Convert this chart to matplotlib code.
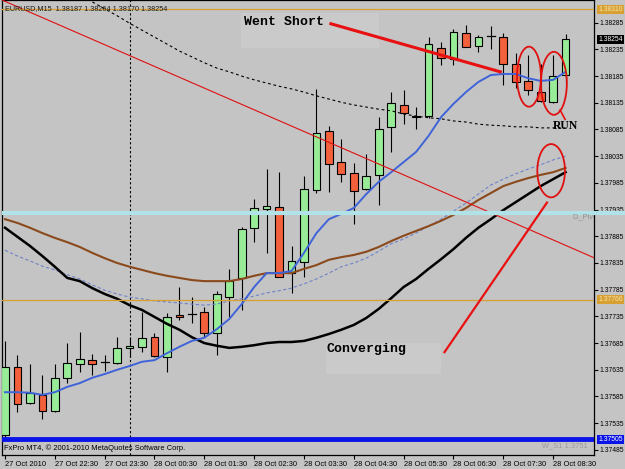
import matplotlib
matplotlib.use('Agg')
import matplotlib.pyplot as plt
import matplotlib.transforms as mtransforms
from matplotlib.patches import Ellipse, Rectangle

# EURUSD M15, bars from 27 Oct 21:30 to 28 Oct 08:45
opens = [1.37512, 1.37641, 1.37572, 1.37587, 1.37557, 1.37620, 1.37646, 1.37654, 1.37650, 1.37648,
         1.37676, 1.37678, 1.37697, 1.37658, 1.37738, 1.37740, 1.37744, 1.37704, 1.37772, 1.37807,
         1.37901, 1.37936, 1.37940, 1.37816, 1.37837, 1.37972, 1.38082, 1.38024, 1.38004, 1.37974,
         1.38000, 1.38090, 1.38131, 1.38110, 1.38110, 1.38238, 1.38217, 1.38266, 1.38241, 1.38260,
         1.38258, 1.38208, 1.38176, 1.38155, 1.38137, 1.38187]
highs = [1.37688, 1.37663, 1.37645, 1.37626, 1.37646, 1.37686, 1.37706, 1.37665, 1.37663, 1.37697,
         1.37697, 1.37744, 1.37704, 1.37742, 1.37790, 1.37772, 1.37753, 1.37783, 1.37824, 1.37902,
         1.37955, 1.38011, 1.38005, 1.37867, 1.37998, 1.38161, 1.38091, 1.38067, 1.38022, 1.38039,
         1.38108, 1.38155, 1.38159, 1.38127, 1.38258, 1.38249, 1.38273, 1.38281, 1.38262, 1.38279,
         1.38266, 1.38228, 1.38225, 1.38208, 1.38225, 1.38264]
lows = [1.37508, 1.37555, 1.37570, 1.37542, 1.37556, 1.37611, 1.37630, 1.37626, 1.37632, 1.37646,
        1.37658, 1.37669, 1.37658, 1.37630, 1.37729, 1.37723, 1.37697, 1.37663, 1.37733, 1.37747,
        1.37874, 1.37854, 1.37808, 1.37779, 1.37808, 1.37966, 1.37968, 1.37987, 1.37908, 1.37972,
        1.37944, 1.38043, 1.38095, 1.38086, 1.38107, 1.38206, 1.38206, 1.38239, 1.38230, 1.38236,
        1.38168, 1.38163, 1.38150, 1.38137, 1.38135, 1.38170]
closes = [1.37641, 1.37570, 1.37592, 1.37557, 1.37620, 1.37648, 1.37656, 1.37646, 1.37650, 1.37675,
          1.37680, 1.37695, 1.37661, 1.37734, 1.37734, 1.37740, 1.37704, 1.37776, 1.37802, 1.37899,
          1.37938, 1.37942, 1.37809, 1.37839, 1.37974, 1.38078, 1.38020, 1.38002, 1.37970, 1.37998,
          1.38086, 1.38135, 1.38116, 1.38108, 1.38245, 1.38219, 1.38268, 1.38240, 1.38258, 1.38260,
          1.38208, 1.38174, 1.38159, 1.38138, 1.38185, 1.38254]

# moving averages (one value per bar)
ma_blue = [1.37593, 1.37593, 1.37592, 1.37588, 1.37593, 1.37603, 1.37610, 1.37620, 1.37627, 1.37635,
           1.37642, 1.37650, 1.37653, 1.37666, 1.37678, 1.37689, 1.37695, 1.37711, 1.37730, 1.37758,
           1.37790, 1.37816, 1.37816, 1.37820, 1.37854, 1.37891, 1.37917, 1.37927, 1.37938, 1.37964,
           1.37987, 1.38005, 1.38024, 1.38043, 1.38073, 1.38108, 1.38133, 1.38155, 1.38174, 1.38187,
           1.38189, 1.38189, 1.38181, 1.38176, 1.38178, 1.38193]
ma_brown = [1.37917, 1.37910, 1.37901, 1.37891, 1.37882, 1.37874, 1.37865, 1.37854, 1.37844, 1.37835,
            1.37828, 1.37822, 1.37816, 1.37811, 1.37807, 1.37803, 1.37801, 1.37801, 1.37801, 1.37805,
            1.37811, 1.37816, 1.37816, 1.37816, 1.37824, 1.37831, 1.37841, 1.37846, 1.37850, 1.37856,
            1.37865, 1.37876, 1.37886, 1.37895, 1.37904, 1.37914, 1.37925, 1.37938, 1.37953, 1.37966,
            1.37979, 1.37987, 1.37994, 1.38000, 1.38005, 1.38013]
ma_black = [1.37901, 1.37884, 1.37867, 1.37848, 1.37828, 1.37807, 1.37801, 1.37788, 1.37777, 1.37768,
            1.37756, 1.37747, 1.37734, 1.37721, 1.37710, 1.37696, 1.37685, 1.37680, 1.37676, 1.37678,
            1.37681, 1.37685, 1.37687, 1.37687, 1.37689, 1.37695, 1.37702, 1.37710, 1.37719, 1.37732,
            1.37749, 1.37769, 1.37790, 1.37805, 1.37824, 1.37842, 1.37861, 1.37882, 1.37901, 1.37917,
            1.37934, 1.37949, 1.37964, 1.37979, 1.37992, 1.38005]
ma_dotted = [1.37859, 1.37848, 1.37839, 1.37829, 1.37822, 1.37813, 1.37805, 1.37794, 1.37784, 1.37777,
             1.37771, 1.37768, 1.37764, 1.37762, 1.37760, 1.37758, 1.37756, 1.37758, 1.37764, 1.37768,
             1.37773, 1.37779, 1.37783, 1.37788, 1.37796, 1.37805, 1.37816, 1.37828, 1.37835, 1.37844,
             1.37857, 1.37871, 1.37880, 1.37891, 1.37904, 1.37917, 1.37932, 1.37947, 1.37964, 1.37981,
             1.37992, 1.38002, 1.38011, 1.38019, 1.38028, 1.38035]
# dashed black average, from bar 6 on (earlier bars are above the window)
ma_dashed_start = 6
ma_dashed = [1.38339, 1.38324, 1.38311, 1.38298, 1.38284, 1.38271, 1.38258, 1.38245, 1.38232, 1.38221,
             1.38210, 1.38200, 1.38193, 1.38185, 1.38178, 1.38172, 1.38166, 1.38161, 1.38155, 1.38148,
             1.38142, 1.38136, 1.38131, 1.38127, 1.38123, 1.38120, 1.38114, 1.38110, 1.38107, 1.38105,
             1.38101, 1.38099, 1.38095, 1.38093, 1.38092, 1.38090, 1.38090, 1.38088, 1.38088, 1.38088]

tick_bars = [0, 4, 8, 12, 16, 20, 24, 28, 32, 36, 40, 44]
tick_labels = ['27 Oct 2010', '27 Oct 22:30', '27 Oct 23:30', '28 Oct 00:30', '28 Oct 01:30',
               '28 Oct 02:30', '28 Oct 03:30', '28 Oct 04:30', '28 Oct 05:30', '28 Oct 06:30',
               '28 Oct 07:30', '28 Oct 08:30']
price_ticks = [1.37485, 1.37535, 1.37585, 1.37635, 1.37685, 1.37735, 1.37785, 1.37835, 1.37885,
               1.37935, 1.37985, 1.38035, 1.38085, 1.38135, 1.38185, 1.38235, 1.38285]

day_break_bar = 10
pivot_level = 1.37928
orange_level_top = 1.38310
orange_level = 1.37766
ws1_level = 1.37505
last_price = 1.38254

trend_pts = [(0, 1.38325), (45, 1.37868)]
short_line = [(26.16, 1.38283), (39.76, 1.38193)]
converge_line = [(35.28, 1.37668), (43.5, 1.37948)]
run_line = [(44.56, 1.381215), (44.96, 1.38104)]

BG = '#c4c4c4'
GREEN = '#98ec98'
RED = '#f2603c'
SMALL = dict(family='Liberation Sans', size=5.4)
SCALE = dict(family='Liberation Sans', size=4.9)
NOTE = dict(family='Liberation Mono', size=9.5, weight='bold')


def main():
    fig = plt.figure(figsize=(6.25, 4.69), dpi=100, facecolor=BG)
    ax = fig.add_axes([2 / 625, 14 / 469, 592 / 625, 455 / 469], facecolor=BG)
    ax.set_xlim(-0.24, 47.28)
    ax.set_ylim(1.374754, 1.383275)

    # ------------------ candles ------------------
    n = len(opens)
    w = 0.62
    ax.vlines(range(n), lows, highs, color='black', lw=0.8, zorder=2)
    for i in range(n):
        o, c = opens[i], closes[i]
        if abs(c - o) < 1e-9:
            ax.plot([i - w / 2, i + w / 2], [o, o], color='black', lw=0.9, zorder=3)
            continue
        col = GREEN if c > o else RED
        ax.bar(i, abs(c - o), bottom=min(o, c), width=w, color=col,
               edgecolor='black', lw=0.8, zorder=3)

    # ------------------ indicators ------------------
    xs = list(range(n))
    ax.plot(xs, ma_dotted, color='#6f84c8', lw=0.8, ls=(0, (3, 2)), zorder=4)
    ax.plot(xs, ma_brown, color='#8b4a1c', lw=1.5, zorder=4)
    ax.plot(xs, ma_black, color='black', lw=1.8, zorder=4)
    ax.plot(xs, ma_blue, color='#3f63d8', lw=1.4, zorder=5)
    ax.plot(range(ma_dashed_start, n), ma_dashed, color='black', lw=0.8,
            ls=(0, (2.5, 2.5)), zorder=4)

    # ------------------ objects ------------------
    ax.axvline(day_break_bar, color='black', lw=0.8, ls=(0, (2, 2)), zorder=1)
    ax.axline(trend_pts[0], trend_pts[1], color='#e01010', lw=0.8, zorder=6)
    ax.axhline(pivot_level, color='#b0e2e8', lw=3, zorder=6)
    ax.axhline(orange_level, color='#d8a030', lw=0.9, zorder=6)
    ax.axhline(orange_level_top, color='#d8a030', lw=0.9, zorder=6)
    ax.axhline(ws1_level, color='#0a14e8', lw=3.5, zorder=6)

    # annotation boxes
    ax.add_patch(Rectangle((18.96, 1.38237), 11.04, 0.00066, color='#cacaca', lw=0, zorder=1))
    ax.add_patch(Rectangle((25.76, 1.37628), 9.2, 0.00058, color='#cacaca', lw=0, zorder=1))
    ax.text(19.2, 1.38286, 'Went Short', va='center', ha='left', **NOTE, zorder=7)
    ax.text(25.84, 1.37674, 'Converging', va='center', ha='left', **NOTE, zorder=7)
    ax.text(45.0, 1.380915, 'RUN', va='center', ha='center', family='Liberation Serif',
            size=8.5, weight='bold', zorder=7)

    for seg, lw in [(short_line, 2.2), (converge_line, 1.6), (run_line, 1.2)]:
        ax.plot([seg[0][0], seg[1][0]], [seg[0][1], seg[1][1]], color='#e81010', lw=lw, zorder=7)

    for (cx, cy, ew, eh) in [(42.06, 1.381839, 1.92, 0.001124),
                             (44.06, 1.381715, 2.08, 0.00118),
                             (43.84, 1.380078, 2.22, 0.000998)]:
        ax.add_patch(Ellipse((cx, cy), ew, eh, fill=False, ec='#e01010', lw=1.3, zorder=7))

    # small labels inside the chart
    ax.text(45.6, pivot_level - 0.00006, 'D_Pivot 1.3793', color='#909090', va='center',
            ha='left', clip_on=True, **SMALL, zorder=7)
    ax.text(0.99, ws1_level - 0.00013, 'W_S1 1.3751', color='#9a9a9a', va='center',
            ha='right', transform=mtransforms.blended_transform_factory(ax.transAxes, ax.transData),
            **SMALL, zorder=7)
    ax.text(3 / 592, 1 - 9 / 455, 'EURUSD,M15  1.38187 1.38264 1.38170 1.38254',
            transform=ax.transAxes, va='center', ha='left', color='#1a1a1a',
            family='Liberation Sans', size=5.2, zorder=8)
    ax.text(2 / 592, 7 / 455, 'FxPro MT4, \u00a9 2001-2010 MetaQuotes Software Corp.',
            transform=ax.transAxes, va='center', ha='left', color='black', **SMALL, zorder=8)

    # ------------------ axes ------------------
    ax.yaxis.tick_right()
    ax.set_yticks(price_ticks)
    ax.set_yticklabels([f'{p:.5f}' for p in price_ticks], **SCALE)
    ax.set_xticks(tick_bars)
    ax.set_xticklabels(tick_labels, ha='left', **SMALL)
    ax.tick_params(axis='y', length=3, pad=1, width=0.8)
    ax.tick_params(axis='x', length=3, pad=1, width=0.8)
    for s in ax.spines.values():
        s.set_color('black')
        s.set_linewidth(0.9)

    # price boxes on the scale
    tr = mtransforms.blended_transform_factory(ax.transAxes, ax.transData)
    ax.plot([1.0, 1.06], [pivot_level, pivot_level], color='#b0e2e8', lw=3,
            transform=tr, clip_on=False, zorder=8)
    for level, fc, tc in [(orange_level_top, '#d8a030', '#f4e4b0'),
                          (last_price, 'black', 'white'),
                          (orange_level, '#d8a030', '#f4e4b0'),
                          (ws1_level, '#0a14e8', 'white')]:
        ax.text(1.0 + 4.5 / 592, level, f'{level:.5f}', transform=tr, va='center', ha='left',
                color=tc, clip_on=False, zorder=9, **SCALE,
                bbox=dict(boxstyle='square,pad=0.15', fc=fc, ec='none'))

    fig.savefig('out.png', dpi=100, facecolor=BG)


if __name__ == '__main__':
    main()
